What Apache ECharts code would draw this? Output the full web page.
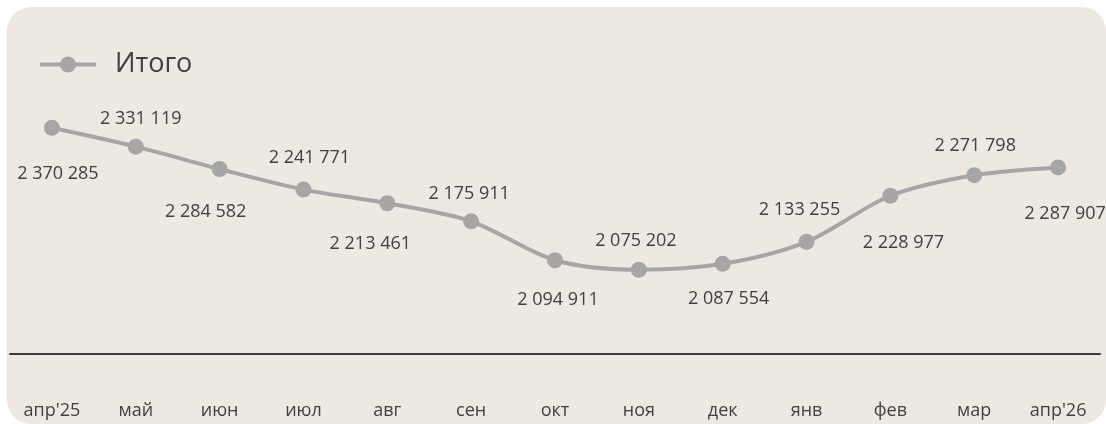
<!DOCTYPE html>
<html>
<head>
<meta charset="utf-8">
<script src="https://cdn.jsdelivr.net/npm/echarts@6/dist/echarts.min.js"></script>
<style>
    html, body { margin: 0; padding: 0; background: #ffffff; }
    .panel {
        position: absolute; left: 7px; top: 7px; width: 1099px; height: 417px;
        background: #EEE8E2; border-radius: 24px;
    }
    #chart { position: absolute; left: 0; top: 0; width: 1106px; height: 424px; }
</style>
</head>
<body>
<div class="panel"></div>
<div id="chart"></div>
<script>
// данные
var months = ["апр'25", "май", "июн", "июл", "авг", "сен", "окт", "ноя", "дек", "янв", "фев", "мар", "апр'26"];
var totals = [2370285, 2331119, 2284582, 2241771, 2213461, 2175911, 2094911, 2075202, 2087554, 2133255, 2228977, 2271798, 2287907];
// смещение подписей относительно точки
var labelOffsets = [[6, 46], [5, -28], [-14, 43], [6, -32], [-17, 41], [-2, -27], [3, 40],
    [-3, -29], [6, 35], [-7, -32], [13, 47], [1, -29], [7, 46]];

function fmt(v) {
    return String(v).replace(/\B(?=(\d{3})+(?!\d))/g, ' ');
}

var seriesData = [];
for (var i = 0; i < totals.length; i++) {
    seriesData.push({
        value: totals[i],
        label: { offset: labelOffsets[i] }
    });
}

var myChart = echarts.init(document.getElementById('chart'));
var option = {
    backgroundColor: 'transparent',
    animation: false,
    textStyle: { fontFamily: 'Open Sans' },
    legend: {
        left: 33,
        top: 46,
        itemWidth: 56,
        itemHeight: 20,
        lineStyle: { width: 4 },
        textStyle: { fontSize: 27, color: '#404040', fontFamily: 'Open Sans', padding: [0, 0, 0, 14] },
        data: ['Итого']
    },
    grid: { left: 10, right: 6, top: 113.5, bottom: 70 },
    xAxis: {
        type: 'category',
        data: months,
        boundaryGap: true,
        axisLine: { lineStyle: { color: '#3a3a3a', width: 2 } },
        axisTick: { show: false },
        axisLabel: { color: '#404040', fontSize: 18, margin: 48, fontFamily: 'Open Sans' }
    },
    yAxis: {
        type: 'value',
        min: 1900000,
        max: 2400000,
        show: false,
        splitLine: { show: false }
    },
    series: [{
        name: 'Итого',
        type: 'line',
        smooth: 0.3,
        data: seriesData,
        symbol: 'circle',
        symbolSize: 16,
        itemStyle: { color: '#A6A6A6' },
        lineStyle: { color: '#A6A6A6', width: 4 },
        label: {
            show: true,
            position: 'inside',
            color: '#404040',
            fontSize: 18,
            fontFamily: 'Open Sans',
            formatter: function (p) { return fmt(p.value); }
        }
    }]
};
myChart.setOption(option);
</script>
</body>
</html>
